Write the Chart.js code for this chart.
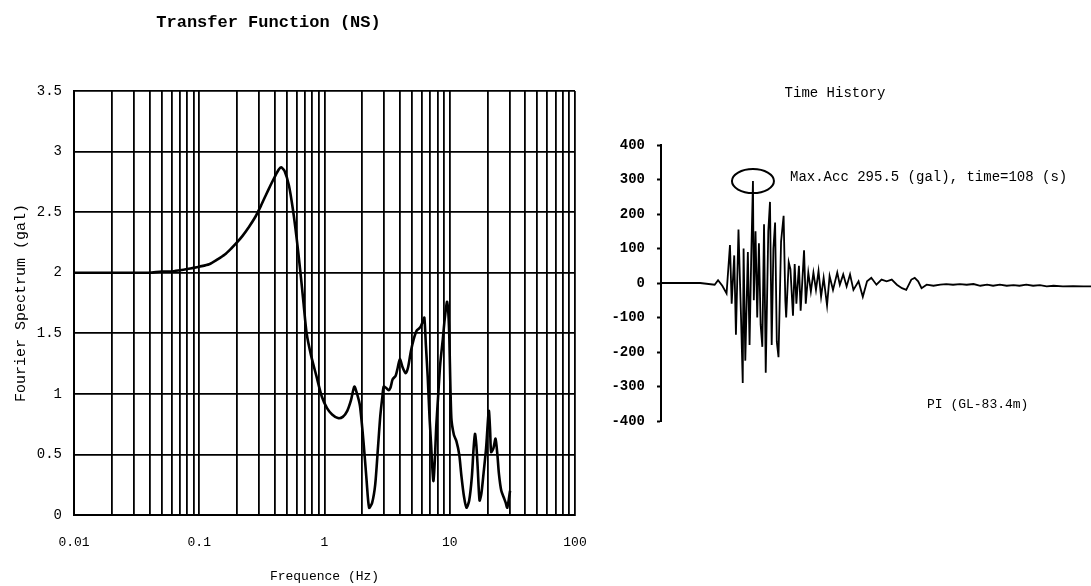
<!DOCTYPE html>
<html><head><meta charset="utf-8">
<script src="https://cdn.jsdelivr.net/npm/chart.js@4.4.0/dist/chart.umd.min.js"></script>
<style>
html,body{margin:0;padding:0;background:#fff;width:1091px;height:586px;overflow:hidden;position:relative}
#c1{position:absolute;left:-38px;top:0}
#c2{position:absolute;left:579px;top:0}
</style></head><body>
<canvas id="c1" width="638" height="586"></canvas>
<canvas id="c2" width="512" height="586"></canvas>
<script>
// ---- Transfer function (NS) ----
const freqHz = [0.01,0.015,0.02,0.03,0.04,0.05,0.06,0.07,0.08,0.09,
 0.1,0.12,0.14,0.16,0.18,0.2,0.22,0.25,0.28,0.31,
 0.34,0.37,0.4,0.43,0.45,0.48,0.52,0.56,0.6,0.64,
 0.68,0.72,0.78,0.86,0.95,1.05,1.15,1.28,1.4,1.52,
 1.63,1.73,1.82,1.92,2.05,2.17,2.27,2.4,2.54,2.67,
 2.79,2.9,2.97,3.1,3.25,3.36,3.5,3.7,3.85,4.0,
 4.2,4.45,4.65,4.89,5.15,5.43,5.7,5.89,6.1,6.27,
 6.45,6.67,6.9,7.1,7.25,7.41,7.6,7.8,8.1,8.4,
 8.8,9.1,9.5,9.7,9.9,10.3,10.8,11.3,11.9,12.4,
 13.0,13.6,14.3,15.0,15.5,15.9,16.3,16.7,17.3,17.9,
 18.6,19.5,20.5,21.0,21.4,22.3,23.2,24.0,24.7,25.8,
 27.1,28.0,28.8,30.3];
const fourierAmp = [2.00,2.00,2.00,2.00,2.00,2.01,2.01,2.02,2.03,2.04,
 2.05,2.07,2.11,2.15,2.20,2.25,2.30,2.38,2.46,2.55,
 2.64,2.72,2.79,2.85,2.87,2.84,2.72,2.52,2.28,2.02,
 1.75,1.50,1.32,1.15,0.98,0.88,0.83,0.80,0.81,0.86,
 0.95,1.06,1.00,0.90,0.60,0.28,0.06,0.10,0.25,0.55,
 0.82,0.98,1.06,1.05,1.03,1.05,1.12,1.15,1.22,1.29,
 1.22,1.17,1.22,1.35,1.45,1.52,1.54,1.56,1.60,1.63,
 1.40,1.14,0.80,0.58,0.40,0.28,0.45,0.73,1.00,1.25,
 1.45,1.61,1.76,1.70,1.50,0.80,0.66,0.61,0.50,0.32,
 0.15,0.06,0.12,0.31,0.55,0.67,0.58,0.40,0.12,0.18,
 0.34,0.55,0.86,0.70,0.52,0.55,0.63,0.50,0.34,0.20,
 0.14,0.10,0.06,0.20];
const freqDecadeLabels = ['0.01','0.1','1','10','100'];
const ampTickLabels = ['0','0.5','1','1.5','2','2.5','3','3.5'];

// ---- Time history ----
const timeSec = [0,46,63,67,72,77,81,83,86,88,91,94,96,97,99,102,104,106,108,109,
 111,113,115,117,119,121,123,126,128,130,132,134,136,138,141,144,146,147,150,152,
 155,157,159,162,164,168,170,173,176,179,182,185,188,191,195,198,202,207,210,214,
 218,222,226,232,237,242,247,253,259,265,271,277,283,288,294,298,302,306,312,320,
 328,335,343,351,359,367,375,383,390,398,406,414,421,429,437,445,453,461,472,484,
 496,505];
const accGal = [0,0,-5,8,-8,-30,110,-60,80,-150,155,-100,-290,100,-225,90,-180,80,295.5,-50,
 150,-100,115,-120,-185,170,-260,150,235,-180,100,175,-170,-215,120,195,-50,-100,60,40,
 -95,55,-60,50,-80,95,-60,30,-25,30,-20,35,-40,15,-65,20,-20,30,-5,25,
 -10,25,-20,5,-40,5,15,-5,10,5,10,-5,-15,-20,10,15,5,-15,-5,-8,
 -5,-3,-5,-3,-5,-3,-8,-5,-8,-5,-8,-6,-8,-5,-8,-6,-10,-8,-10,-9,
 -10,-10];
const accTickLabels = ['-400','-300','-200','-100','0','100','200','300','400'];
const maxAcc = {t:108, v:295.5};

const MONO = '"Liberation Mono", "Courier New", monospace';

// grid positions of the log axis (1..9 per decade)
const freqGrid = [];
for (let e=-2;e<=1;e++) for (let k=1;k<=9;k++) freqGrid.push(+(k*Math.pow(10,e)).toPrecision(3));
freqGrid.push(100);

new Chart(document.getElementById('c1'), {
  type:'line',
  data:{datasets:[{data:freqHz.map((f,i)=>({x:f,y:fourierAmp[i]})),
    borderColor:'#000',borderWidth:2.6,pointRadius:0,tension:0.25,fill:false}]},
  options:{
    responsive:false,animation:false,devicePixelRatio:1,
    layout:{padding:{top:0,right:25,left:0,bottom:0}},
    plugins:{legend:{display:false},tooltip:{enabled:false},
      title:{display:true,text:'Transfer Function (NS)',color:'#000',
        font:{family:MONO,size:17,weight:'bold'},padding:{top:13,bottom:57.6}}},
    scales:{
      x:{type:'logarithmic',min:0.01,max:100,
        afterBuildTicks:s=>{s.ticks=freqGrid.map(v=>({value:v}));},
        afterFit:s=>{s.height=71;},
        grid:{color:'#000',lineWidth:1.8,drawTicks:true,tickLength:17,tickColor:'rgba(0,0,0,0)'},
        border:{color:'#000',width:2},
        ticks:{autoSkip:false,maxRotation:0,padding:3,color:'#000',font:{family:MONO,size:13},
          callback:(v)=>{const l=Math.log10(v);return Math.abs(l-Math.round(l))<1e-6?freqDecadeLabels[Math.round(l)+2]:'';}},
        title:{display:true,text:'Frequence (Hz)',color:'#000',font:{family:MONO,size:13},padding:{top:0,bottom:2}}},
      y:{min:0,max:3.5,
        afterFit:s=>{s.width=112;},
        grid:{color:'#000',lineWidth:1.8,drawTicks:false},
        border:{color:'#000',width:2},
        ticks:{stepSize:0.5,padding:12,color:'#000',font:{family:MONO,size:14},
          callback:(v)=>ampTickLabels[Math.round(v*2)]},
        title:{display:true,text:'Fourier Spectrum (gal)',color:'#000',font:{family:MONO,size:15},padding:{top:50,bottom:0}}}
    }
  }
});

const notes = {
  id:'notes',
  afterDatasetsDraw(chart){
    const ctx=chart.ctx, xs=chart.scales.x, ys=chart.scales.y;
    ctx.save();
    ctx.strokeStyle='#000';ctx.lineWidth=2;
    ctx.beginPath();
    ctx.ellipse(xs.getPixelForValue(maxAcc.t), ys.getPixelForValue(maxAcc.v), 21, 12, 0, 0, Math.PI*2);
    ctx.stroke();
    ctx.fillStyle='#000';ctx.textBaseline='middle';ctx.textAlign='left';
    ctx.font='14px '+MONO;
    ctx.fillText('Max.Acc 295.5 (gal), time=108 (s)', 211, 177);
    ctx.font='13px '+MONO;
    ctx.fillText('PI (GL-83.4m)', 348, 405);
    ctx.restore();
  }
};

new Chart(document.getElementById('c2'), {
  type:'line',
  data:{datasets:[{data:timeSec.map((t,i)=>({x:t,y:accGal[i]})),
    borderColor:'#000',borderWidth:1.8,pointRadius:0,tension:0,fill:false}]},
  options:{
    responsive:false,animation:false,devicePixelRatio:1,
    layout:{padding:{top:0,right:0,left:0,bottom:165}},
    plugins:{legend:{display:false},tooltip:{enabled:false},
      title:{display:true,text:'Time History',color:'#000',
        font:{family:MONO,size:14,weight:'normal'},padding:{top:84.6,bottom:43.6}}},
    scales:{
      x:{type:'linear',min:0,max:505,display:false},
      y:{min:-400,max:400,
        afterFit:s=>{s.width=82;},
        grid:{drawOnChartArea:false,drawTicks:true,tickLength:4,tickColor:'#000',tickWidth:2},
        border:{color:'#000',width:2},
        ticks:{stepSize:100,padding:12,color:'#000',font:{family:MONO,size:14,weight:'bold'},
          callback:(v)=>accTickLabels[Math.round(v/100)+4]}}
    }
  },
  plugins:[notes]
});
</script>
</body></html>
